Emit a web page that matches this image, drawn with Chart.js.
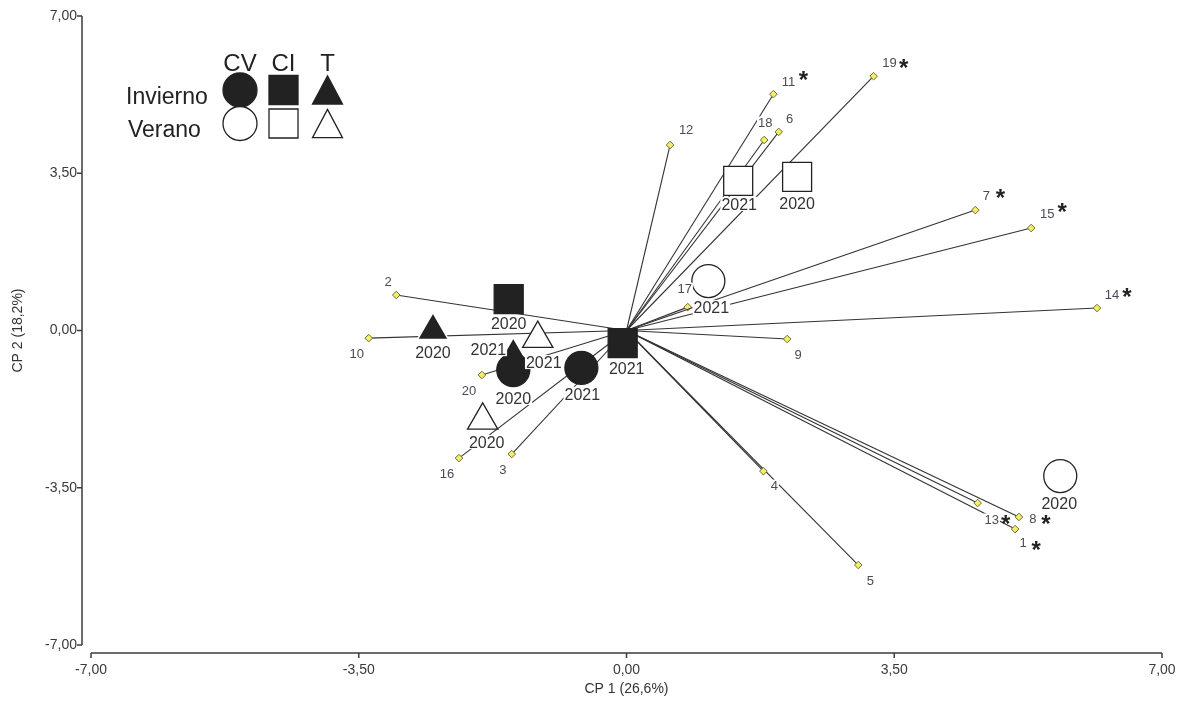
<!DOCTYPE html>
<html><head><meta charset="utf-8">
<script src="https://cdn.jsdelivr.net/npm/chart.js@4.4.1/dist/chart.umd.min.js"></script>
<style>html,body{margin:0;padding:0;background:#fff;}#wrap{width:1188px;height:703px;position:relative;}</style>
</head><body><div id="wrap"><canvas id="c" width="1188" height="703"></canvas></div>
<script>
// ---------------- DATA ----------------
const varNames = ['1','2','3','4','5','6','7','8','9','10','11','12','13','14','15','16','17','18','19','20'];
const varX = [5.08,-3.01,-1.50,1.79,3.03,1.99,4.56,5.13,2.10,-3.37,1.92,0.57,4.59,6.15,5.29,-2.19,0.80,1.80,3.23,-1.89];
const varY = [-4.42,0.79,-2.75,-3.13,-5.22,4.42,2.68,-4.15,-0.19,-0.17,5.26,4.13,-3.84,0.50,2.28,-2.84,0.52,4.24,5.66,-0.99];
const varSignificant = [true,false,false,false,false,false,true,true,false,false,true,false,true,true,true,false,false,false,true,false];
const years = ['2020','2021'];
const cvInviernoX = [-1.48,-0.59], cvInviernoY = [-0.88,-0.83];
const ciInviernoX = [-1.54,-0.05], ciInviernoY = [0.70,-0.28];
const tInviernoX  = [-2.53,-1.48], tInviernoY  = [0.00,-0.56];
const cvVeranoX   = [5.67,1.07],   cvVeranoY   = [-3.24,1.10];
const ciVeranoX   = [2.23,1.46],   ciVeranoY   = [3.42,3.33];
const tVeranoX    = [-1.88,-1.16], tVeranoY    = [-2.00,-0.18];
const xTicks = [-7,-3.5,0,3.5,7];
const yTicks = [-7,-3.5,0,3.5,7];
const xTitle = 'CP 1 (26,6%)';
const yTitle = 'CP 2 (18,2%)';
const legendCols = ['CV','CI','T'];
const legendRows = ['Invierno','Verano'];

// ---------------- STYLE ----------------
const FONT = '"Liberation Sans", Arial, sans-serif';
const groups = [
  {xs:cvInviernoX, ys:cvInviernoY, shape:'circle',   filled:true,  r:16.5, lab:[[0,28],[1,26]]},
  {xs:ciInviernoX, ys:ciInviernoY, shape:'rect',     filled:true,  r:20.5, lab:[[0,24],[4,25]]},
  {xs:tInviernoX,  ys:tInviernoY,  shape:'triangle', filled:true,  r:18,   lab:[[0,21.5],[-25,-6.5]]},
  {xs:cvVeranoX,   ys:cvVeranoY,   shape:'circle',   filled:false, r:16.5, lab:[[-1,27],[3,26]]},
  {xs:ciVeranoX,   ys:ciVeranoY,   shape:'rect',     filled:false, r:20.5, lab:[[0,26],[1,23]]},
  {xs:tVeranoX,    ys:tVeranoY,    shape:'triangle', filled:false, r:17.5, lab:[[4,21.5],[6,23.5]]}
];
// label offsets (px) relative to the variable point: [dx, dy, starDx, starDy]
const varLabelOff = {
 '1':[8,13,21,16],'2':[-8,-14],'3':[-9,15],'4':[11,14],'5':[12,15],'6':[11,-13],
 '7':[11,-15,25,-17],'8':[14,2,27,3],'9':[11,15],'10':[-12,15],'11':[15,-13,30,-19],
 '12':[16,-15],'13':[14,16,28,16],'14':[15,-14,30,-16],'15':[16,-15,31,-21],
 '16':[-12,15],'17':[-3,-19],'18':[1,-18],'19':[16,-14,30,-13],'20':[-13,16]
};
const fmt = v => v.toFixed(2).replace('.', ',');

const datasets = [];
varX.forEach((vx, i) => {
  datasets.push({
    data:[{x:0,y:0},{x:vx,y:varY[i]}], showLine:true, borderColor:'#333', borderWidth:1.1,
    pointRadius:[0,3.8], pointStyle:'rectRot', pointBackgroundColor:'#f2ee6c',
    pointBorderColor:'#6f6b35', pointBorderWidth:1, order:2
  });
});
groups.forEach(g => {
  datasets.push({
    data: g.xs.map((x, k) => ({x, y:g.ys[k]})), showLine:false, pointStyle:g.shape, pointRadius:g.r,
    pointBackgroundColor: g.filled ? '#222' : '#fff',
    pointBorderColor: (g.filled && g.shape === 'triangle') ? '#fff' : '#222',
    pointBorderWidth: (g.filled && g.shape === 'triangle') ? 1.5 : 1.3, order:1
  });
});

function drawText(ctx, text, cx, cy, font, color, bg, align) {
  ctx.font = font; ctx.textAlign = align || 'center'; ctx.textBaseline = 'alphabetic';
  const m = ctx.measureText(text);
  const asc = m.actualBoundingBoxAscent, desc = m.actualBoundingBoxDescent;
  const base = cy + (asc - desc) / 2;
  if (bg) {
    const left = (align === 'left') ? cx : cx - m.width / 2;
    ctx.fillStyle = '#fff'; ctx.fillRect(left - 1, base - asc - 1, m.width + 2, asc + desc + 2);
  }
  ctx.fillStyle = color; ctx.fillText(text, cx, base);
}
function shape(ctx, kind, cx, cy, size, filled) {
  ctx.beginPath();
  if (kind === 'circle') ctx.arc(cx, cy, size / 2, 0, Math.PI * 2);
  else if (kind === 'rect') ctx.rect(cx - size / 2, cy - size / 2, size, size);
  else { ctx.moveTo(cx, cy - size * 0.47); ctx.lineTo(cx + size / 2, cy + size * 0.47); ctx.lineTo(cx - size / 2, cy + size * 0.47); ctx.closePath(); }
  ctx.fillStyle = filled ? '#222' : '#fff'; ctx.fill();
  ctx.lineWidth = 1.3; ctx.strokeStyle = '#222'; ctx.stroke();
}

const overlay = {
  id:'overlay',
  afterDatasetsDraw(chart) {
    const ctx = chart.ctx, xs = chart.scales.x, ys = chart.scales.y, ca = chart.chartArea;
    ctx.save();
    // axes
    ctx.strokeStyle = '#3c3c3c'; ctx.lineWidth = 1.5;
    const ax = ca.left - 9, ay = ca.bottom + 8;
    ctx.beginPath();
    ctx.moveTo(ax, ys.getPixelForValue(yTicks[yTicks.length-1])); ctx.lineTo(ax, ys.getPixelForValue(yTicks[0]));
    yTicks.forEach(v => { const p = ys.getPixelForValue(v); ctx.moveTo(ax, p); ctx.lineTo(ax - 5, p); });
    ctx.moveTo(xs.getPixelForValue(xTicks[0]), ay); ctx.lineTo(xs.getPixelForValue(xTicks[xTicks.length-1]), ay);
    xTicks.forEach(v => { const p = xs.getPixelForValue(v); ctx.moveTo(p, ay); ctx.lineTo(p, ay + 5); });
    ctx.stroke();
    // variable labels
    varNames.forEach((n, i) => {
      const px = xs.getPixelForValue(varX[i]), py = ys.getPixelForValue(varY[i]);
      const o = varLabelOff[n];
      drawText(ctx, n, px + o[0], py + o[1], '13px ' + FONT, '#4a4a58', true);
      if (varSignificant[i]) drawText(ctx, '*', px + o[2], py + o[3], 'bold 24px ' + FONT, '#222', false);
    });
    // year labels
    groups.forEach(g => {
      g.xs.forEach((x, k) => {
        const px = xs.getPixelForValue(x), py = ys.getPixelForValue(g.ys[k]);
        drawText(ctx, years[k], px + g.lab[k][0], py + g.lab[k][1], '16px ' + FONT, '#333', true);
      });
    });
    // legend
    const colX = [240, 283.5, 327.5];
    legendCols.forEach((t, i) => drawText(ctx, t, colX[i], 62.5, '24px ' + FONT, '#222', false));
    ctx.font = '23px ' + FONT; ctx.textAlign = 'left'; ctx.textBaseline = 'alphabetic'; ctx.fillStyle = '#222';
    ctx.fillText(legendRows[0], 126, 104);
    ctx.fillText(legendRows[1], 128, 137);
    const rowY = [90, 123.5];
    const kinds = ['circle','rect','triangle'], sizes = [34, 29, 30];
    rowY.forEach((y, r) => kinds.forEach((k, i) => shape(ctx, k, colX[i], y, sizes[i], r === 0)));
    ctx.restore();
  }
};

new Chart(document.getElementById('c'), {
  type:'scatter',
  data:{datasets},
  options:{
    responsive:false, maintainAspectRatio:false, animation:false, devicePixelRatio:1,
    layout:{autoPadding:false, padding:{left:0, right:26, top:16, bottom:0}},
    plugins:{legend:{display:false}, tooltip:{enabled:false}, title:{display:false}},
    scales:{
      x:{type:'linear', min:-7, max:7,
        afterBuildTicks: s => { s.ticks = xTicks.map(v => ({value:v})); },
        afterFit: s => { s.height = 58; },
        ticks:{callback: v => fmt(v), font:{size:14, family:FONT}, color:'#3a3a3a', padding:0, maxRotation:0, autoSkip:false},
        grid:{display:false, drawTicks:true, tickLength:17}, border:{display:false},
        title:{display:true, text:xTitle, font:{size:14, family:FONT}, color:'#333', padding:{top:0, bottom:5}}
      },
      y:{type:'linear', min:-7, max:7,
        afterBuildTicks: s => { s.ticks = yTicks.map(v => ({value:v})); },
        afterFit: s => { s.width = 91; },
        ticks:{callback: v => fmt(v), font:{size:14, family:FONT}, color:'#3a3a3a', padding:0, autoSkip:false},
        grid:{display:false, drawTicks:true, tickLength:14}, border:{display:false},
        title:{display:true, text:yTitle, font:{size:14, family:FONT}, color:'#333', padding:{top:10, bottom:0}}
      }
    }
  },
  plugins:[overlay]
});
</script></body></html>
